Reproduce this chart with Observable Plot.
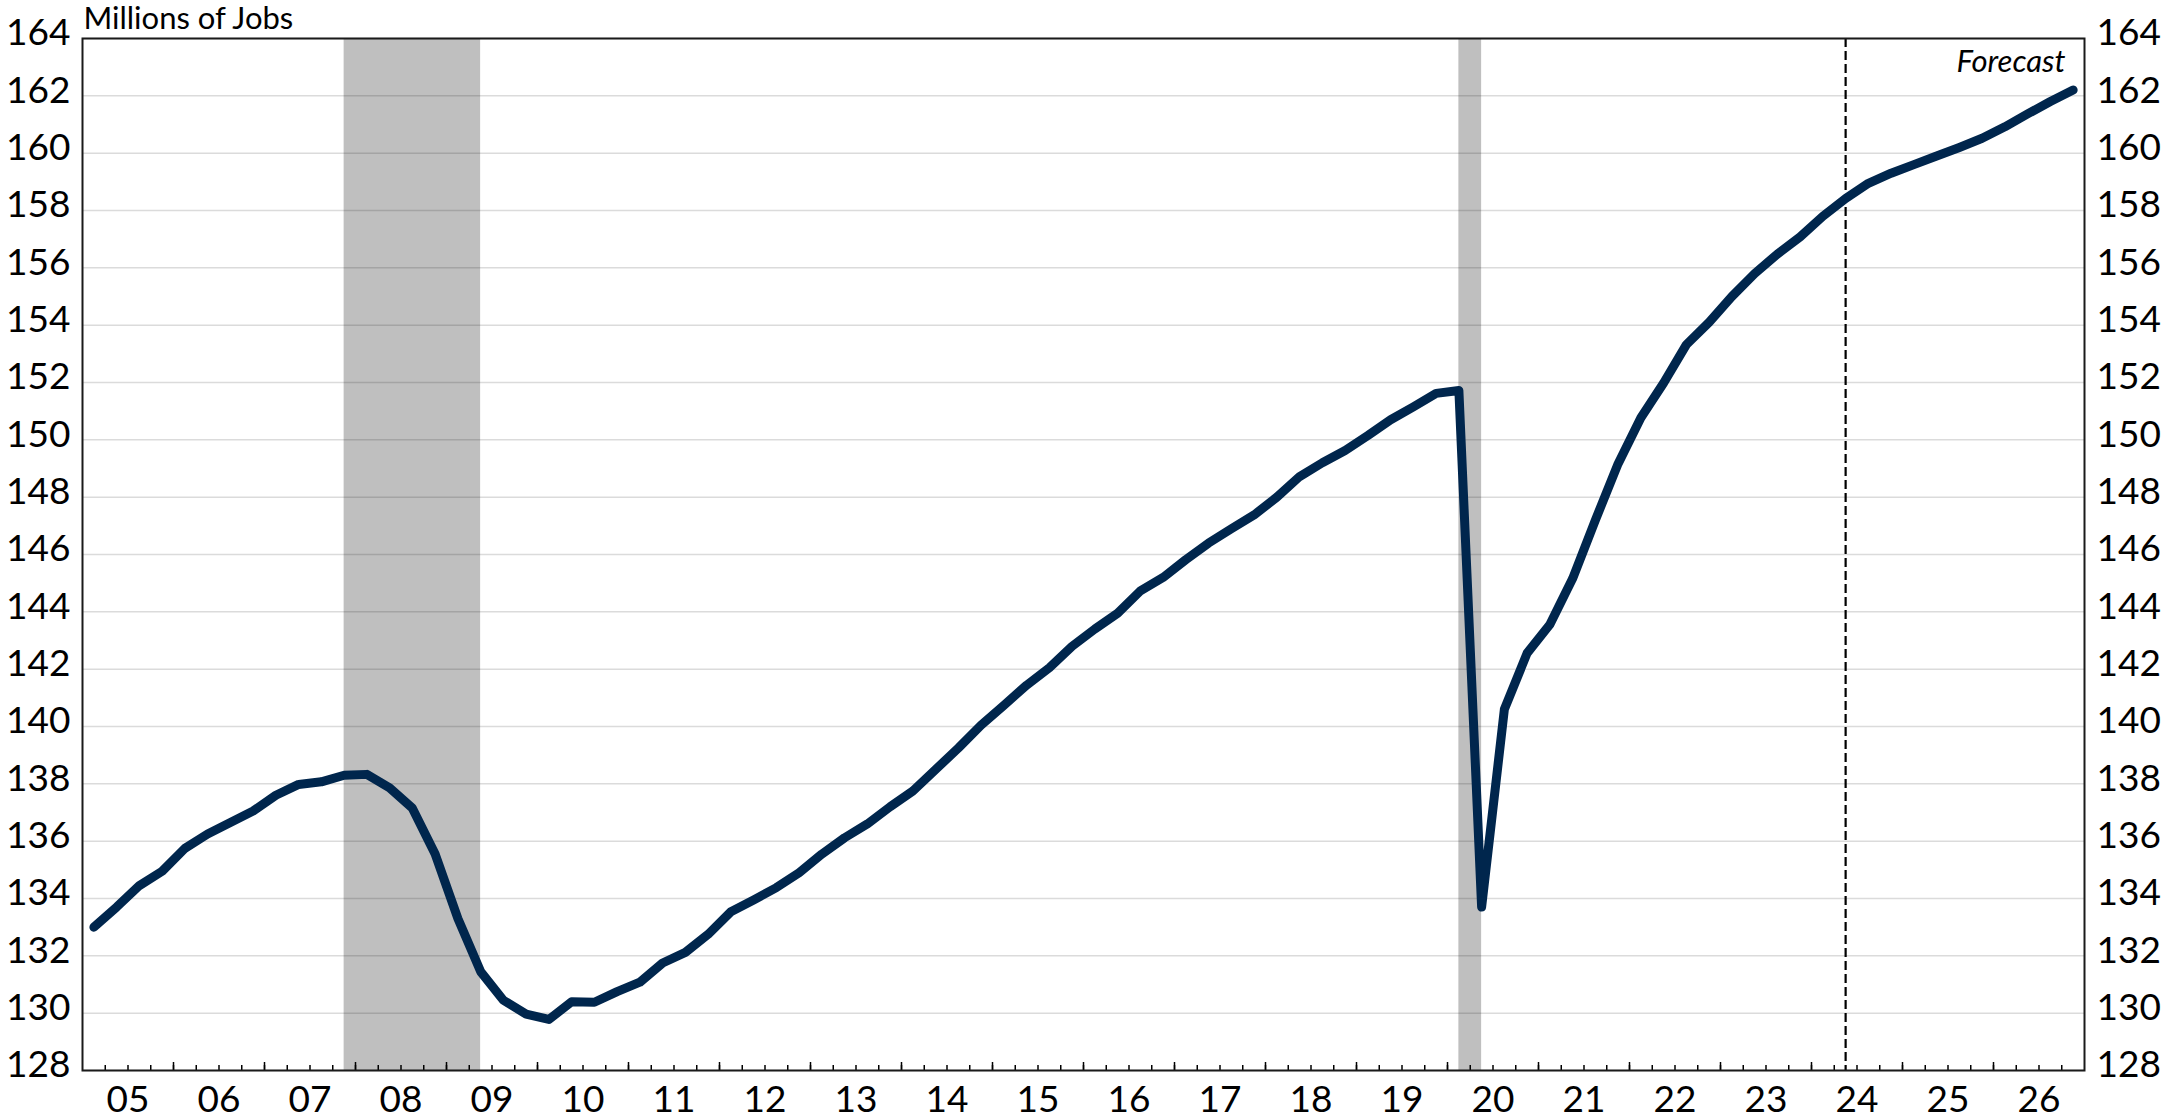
<!DOCTYPE html>
<html>
<head>
<meta charset="utf-8">
<script src="https://cdn.jsdelivr.net/npm/d3@7"></script>
<script src="https://cdn.jsdelivr.net/npm/@observablehq/plot@0.6"></script>
<style>
  html, body { margin: 0; padding: 0; background: #fff; }
  #chart svg { display: block; }
</style>
</head>
<body>
<div id="chart"></div>
<script>
// Nonfarm payroll employment, quarterly average, millions of jobs (2005Q1 – 2026Q4)
const firstYear = 2005;
const employment = [
  133.0, 133.7, 134.45, 134.95,   // 2005
  135.75, 136.25, 136.65, 137.05, // 2006
  137.6, 137.98, 138.07, 138.3,   // 2007
  138.33, 137.86, 137.15, 135.55, // 2008
  133.3, 131.45, 130.45, 129.97,  // 2009
  129.78, 130.4, 130.38, 130.75,  // 2010
  131.08, 131.75, 132.12, 132.75, // 2011
  133.54, 133.95, 134.38, 134.9,  // 2012
  135.55, 136.12, 136.6, 137.2,   // 2013
  137.75, 138.5, 139.25, 140.05,  // 2014
  140.74, 141.44, 142.05, 142.8,  // 2015
  143.4, 143.95, 144.73, 145.2,   // 2016
  145.82, 146.4, 146.9, 147.38,   // 2017
  148.0, 148.72, 149.2, 149.63,   // 2018
  150.15, 150.7, 151.15, 151.62,  // 2019
  151.72, 133.7, 140.6, 142.56,   // 2020
  143.56, 145.16, 147.2, 149.17,  // 2021
  150.77, 151.98, 153.32, 154.1,  // 2022
  155.0, 155.8, 156.48, 157.08,   // 2023
  157.8, 158.42, 158.95, 159.3,   // 2024
  159.6, 159.9, 160.2, 160.52,    // 2025
  160.92, 161.37, 161.8, 162.2    // 2026
];
const yearLabels = ["05","06","07","08","09","10","11","12","13","14","15",
                    "16","17","18","19","20","21","22","23","24","25","26"];
const yTicks = [128,130,132,134,136,138,140,142,144,146,148,150,152,154,156,158,160,162,164];
const recessionStart = ["2007Q4", "2020Q1"];
const recessionEnd   = ["2009Q2", "2020Q2"];
const forecastStart = "2024Q2";
const yAxisTitle = "Millions of Jobs";
const forecastLabel = "Forecast";

// Layout
const W = 2163, H = 1117;
const mLeft = 82, mRight = 79, mTop = 38, mBottom = 47;
const innerH = H - mTop - mBottom;
const font = "Lato, 'Open Sans', sans-serif";

// Quarter string "YYYYQn" -> category index
const qIndex = s => (+s.slice(0, 4) - firstYear) * 4 + (+s.slice(5) - 1);

const series = employment.map((v, i) => ({i, v}));
const recessions = recessionStart.map((s, k) => ({x1: qIndex(s), x2: qIndex(recessionEnd[k])}));
const yearCenters = yearLabels.map((_, k) => k * 4 + 1.5);
const quarterEdges = d3.range(0.5, employment.length - 1, 1);
const yearEdges = quarterEdges.filter(e => (e + 0.5) % 4 === 0);

const chart = Plot.plot({
  width: W,
  height: H,
  marginLeft: mLeft,
  marginRight: mRight,
  marginTop: mTop,
  marginBottom: mBottom,
  style: {fontFamily: font, color: "#000", background: "#fff", overflow: "visible"},
  x: {type: "linear", domain: [-0.5, employment.length - 0.5], label: null},
  y: {domain: [yTicks[0], yTicks[yTicks.length - 1]], label: null},
  marks: [
    // recession shading
    Plot.rect(recessions, {x1: "x1", x2: "x2", y1: yTicks[0], y2: yTicks[yTicks.length - 1], fill: "#bfbfbf"}),
    // horizontal gridlines
    Plot.gridY(yTicks, {stroke: "#000", strokeOpacity: 0.14, strokeWidth: 1.5}),
    // forecast divider
    Plot.ruleX([qIndex(forecastStart)], {stroke: "#000", strokeWidth: 2.2, strokeDasharray: "9,4"}),
    // employment line
    Plot.line(series, {x: "i", y: "v", stroke: "#00264d", strokeWidth: 9,
                       strokeLinecap: "round", strokeLinejoin: "round"}),
    // quarter and year tick marks rising from the x axis
    Plot.tickX(quarterEdges, {x: d => d, stroke: "#000", strokeWidth: 1.5, insetTop: innerH - 5}),
    Plot.tickX(yearEdges, {x: d => d, stroke: "#000", strokeWidth: 1.5, insetTop: innerH - 8}),
    Plot.frame({stroke: "#1a1a1a", strokeWidth: 2}),
    // axes
    Plot.axisY(yTicks, {anchor: "left", tickSize: 0, tickPadding: 12, fontSize: 37, dy: -5}),
    Plot.axisY(yTicks, {anchor: "right", tickSize: 0, tickPadding: 12, fontSize: 37, dy: -5}),
    Plot.axisX(yearCenters, {anchor: "bottom", tickSize: 0, tickPadding: 15, fontSize: 37,
                             tickFormat: d => yearLabels[Math.round((d - 1.5) / 4)]}),
    // annotations
    Plot.text([yAxisTitle], {frameAnchor: "top-left", textAnchor: "start", lineAnchor: "bottom",
                             dx: 1, dy: -10, fontSize: 31, fill: "#000"}),
    Plot.text([forecastLabel], {frameAnchor: "top-right", textAnchor: "end", lineAnchor: "bottom",
                                dx: -19, dy: 33, fontSize: 31, fontStyle: "italic", fill: "#000"})
  ]
});

document.getElementById("chart").appendChild(chart);
</script>
</body>
</html>
